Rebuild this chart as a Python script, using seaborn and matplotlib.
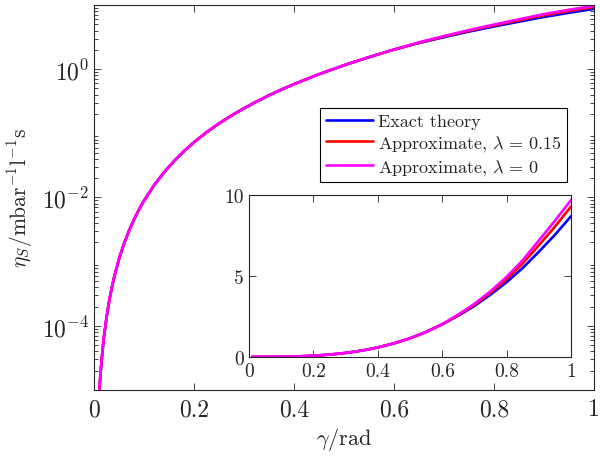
import numpy as np
import pandas as pd
import matplotlib
matplotlib.use("Agg")
import matplotlib.pyplot as plt
import seaborn as sns
from matplotlib.ticker import FixedLocator, FuncFormatter, LogLocator, NullFormatter

# values
gamma = [0.01, 0.0125, 0.015, 0.0175, 0.02, 0.025, 0.03, 0.035, 0.04, 0.05,
         0.06, 0.07, 0.08, 0.09, 0.1, 0.12, 0.14, 0.16, 0.18, 0.2, 0.225, 0.25,
         0.275, 0.3, 0.325, 0.35, 0.375, 0.4, 0.45, 0.5, 0.55, 0.6,
         0.65, 0.7, 0.75, 0.8, 0.85, 0.9, 0.95, 1.0]
eta_common = [9.0e-6, 1.75e-5, 3.0e-5, 4.8e-5, 7.2e-5, 1.4e-4, 2.43e-4, 3.86e-4,
              5.76e-4, 1.125e-3, 1.94e-3, 3.09e-3, 4.6e-3, 6.56e-3, 9.0e-3,
              0.0156, 0.0248, 0.037, 0.053, 0.073, 0.104, 0.143, 0.19, 0.246,
              0.313, 0.391, 0.481, 0.585, 0.835, 1.15, 1.54, 2.02]
eta_exact_tail = [2.55, 3.15, 3.85, 4.62, 5.50, 6.50, 7.55, 8.70]
eta_lam015_tail = [2.58, 3.22, 3.97, 4.80, 5.78, 6.90, 8.05, 9.30]
eta_lam0_tail = [2.62, 3.28, 4.06, 4.95, 5.98, 7.20, 8.42, 9.70]

eta_exact = eta_common + eta_exact_tail
eta_lam015 = eta_common + eta_lam015_tail
eta_lam0 = eta_common + eta_lam0_tail

labels = ["Exact theory", r"Approximate, $\lambda\,=\,0.15$", r"Approximate, $\lambda\,=\,0$"]
colors = ["#0000ff", "#ff0000", "#ff00ff"]

sns.set_style("ticks")
plt.rcParams["font.family"] = ["cmr10", "DejaVu Serif"]
plt.rcParams["mathtext.fontset"] = "cm"
plt.rcParams["axes.formatter.use_mathtext"] = True
plt.rcParams["axes.unicode_minus"] = False

df = pd.DataFrame({"gamma": gamma * 3,
                   "eta": eta_exact + eta_lam015 + eta_lam0,
                   "model": [labels[0]] * len(gamma) + [labels[1]] * len(gamma) + [labels[2]] * len(gamma)})

edge = "#262626"

def style_axes(ax, size):
    for s in ax.spines.values():
        s.set_visible(True)
        s.set_color(edge)
        s.set_linewidth(0.8)
    ax.tick_params(which="both", direction="in", top=True, right=True,
                   color=edge, labelsize=size, width=0.6)
    ax.tick_params(which="major", length=5)
    ax.tick_params(which="minor", length=3)

fig = plt.figure(figsize=(6, 4.6), dpi=100)
ax = fig.add_axes([0.157, 0.15, 0.833, 0.837])

sns.lineplot(data=df, x="gamma", y="eta", hue="model", palette=colors,
             hue_order=labels, linewidth=1.9, ax=ax, sort=False)
ax.set_yscale("log")
ax.set_xlim(0, 1)
ax.set_ylim(1e-5, 10)
ax.xaxis.set_major_locator(FixedLocator([0, 0.2, 0.4, 0.6, 0.8, 1]))
ax.xaxis.set_major_formatter(FuncFormatter(lambda v, p: "%g" % v))
ax.yaxis.set_major_locator(FixedLocator([1e-4, 1e-2, 1e0]))
ax.yaxis.set_minor_locator(LogLocator(base=10, subs=np.arange(2, 10), numticks=20))
ax.yaxis.set_minor_formatter(NullFormatter())
style_axes(ax, 17)
ax.tick_params(axis="x", pad=6)
ax.set_xlabel(r"$\gamma/\mathrm{rad}$", fontsize=16, labelpad=3)
ax.set_ylabel(r"$\eta_S/\mathrm{mbar}^{-1}\mathrm{l}^{-1}\mathrm{s}$", fontsize=15.5, labelpad=5)

handles, _ = ax.get_legend_handles_labels()
leg = ax.legend(handles, labels, loc="upper right", bbox_to_anchor=(0.946, 0.732),
                borderaxespad=0, fancybox=False, framealpha=1, edgecolor="black",
                fontsize=13, handlelength=2.6, handletextpad=0.3, labelspacing=0.22,
                borderpad=0.3)
leg.get_frame().set_linewidth(0.8)

# inset
axi = fig.add_axes([0.415, 0.222, 0.537, 0.352])
sns.lineplot(data=df, x="gamma", y="eta", hue="model", palette=colors,
             hue_order=labels, linewidth=1.9, ax=axi, sort=False, legend=False)
axi.set_xlim(0, 1)
axi.set_ylim(0, 10)
axi.xaxis.set_major_locator(FixedLocator([0, 0.2, 0.4, 0.6, 0.8, 1]))
axi.xaxis.set_major_formatter(FuncFormatter(lambda v, p: "%g" % v))
axi.yaxis.set_major_locator(FixedLocator([0, 5, 10]))
axi.yaxis.set_major_formatter(FuncFormatter(lambda v, p: "%g" % v))
style_axes(axi, 14)
axi.set_xlabel("")
axi.set_ylabel("")

fig.savefig("out.png", dpi=100)
